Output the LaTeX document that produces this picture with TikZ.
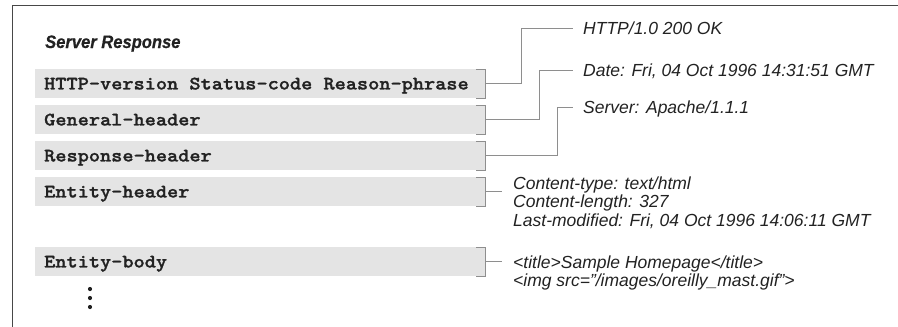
\documentclass[tikz,border=0pt]{standalone}
\usepackage{fontspec}
\setmainfont{Liberation Sans}
\newfontfamily\codefont{lmmonolt10-bold}[Extension=.otf, FakeStretch=1.12, FakeBold=1.3]
\newfontfamily\titlefont{Liberation Sans}[FakeStretch=0.92, FakeBold=0.6]
% one full character cell of the code font
\newcommand\cellgap{\hphantom{H}}

\definecolor{framegray}{HTML}{474747}
\definecolor{barfill}{HTML}{E4E4E4}
\definecolor{linegray}{HTML}{8E8E8E}
\definecolor{inkcolor}{HTML}{222222}

\begin{document}
\begin{tikzpicture}[x=1pt, y=-1pt,
  frame/.style={draw=framegray, line width=1.6pt},
  field/.style={fill=barfill, anchor=north west, minimum height=29pt,
    text width=432pt, inner xsep=9pt, inner ysep=0pt, align=left,
    text height=11.5pt, text depth=0pt, text=inkcolor,
    font=\codefont\fontsize{19}{19}\selectfont},
  tick/.style={draw=linegray, line width=0.9pt},
  wire/.style={draw=linegray, line width=0.9pt},
  label/.style={anchor=west, inner sep=0pt, text height=12.5pt, text depth=0pt,
    text=inkcolor, font=\itshape\fontsize{17.5}{18.5}\selectfont},
  heading/.style={anchor=base west, inner sep=0pt, text=inkcolor,
    font=\titlefont\bfseries\itshape\fontsize{18}{20}\selectfont}
]
\useasboundingbox (0,0) rectangle (898,327);

% outer frame (top and left edges)
\draw[frame] (898,5.5) -- (12.5,5.5) -- (12.5,327);

\node[heading] (title) at (45,48) {Server Response};

% message fields
\node[field] (b1) at (35,69)  {HTTP-version\cellgap Status-code\cellgap Reason-phrase};
\node[field] (b2) at (35,105) {General-header};
\node[field] (b3) at (35,141) {Response-header};
\node[field] (b4) at (35,177) {Entity-header};
\node[field] (b5) at (35,247) {Entity-body};

% brackets at the right end of each field
\foreach \b in {b1,b2,b3,b4,b5}
  \draw[tick] ([xshift=-9pt]\b.north east) -- (\b.north east)
              -- (\b.south east) -- ([xshift=-9pt]\b.south east);

% sample values
\node[label] (t1) at (583,28)  {HTTP/1.0 200 OK};
\node[label] (t2) at (583,70)  {Date: Fri, 04 Oct 1996 14:31:51 GMT};
\node[label] (t3) at (583,107) {Server: Apache/1.1.1};

\node[label] (e1) at (513,183)   {Content-type: text/html};
\node[label] (e2) at (513,201.5) {Content-length: 327};
\node[label] (e3) at (513,220)   {Last-modified: Fri, 04 Oct 1996 14:06:11 GMT};

\node[label] (d1) at (513,262)   {<title>Sample Homepage</title>};
\node[label] (d2) at (513,280.5) {<img src="/images/oreilly\_mast.gif">};

% connectors
\draw[wire] (b1.east) -- ++(36,0) |- ([xshift=-10pt]t1.west);
\draw[wire] (b2.east) -- ++(54,0) |- ([xshift=-10pt]t2.west);
\draw[wire] (b3.east) -- ++(72,0) |- ([xshift=-10pt]t3.west);
\draw[wire] (b4.east) -- ++(17,0);
\draw[wire] (b5.east) -- ++(17,0);

% continuation dots
\foreach \y in {289,298,307}
  \fill[inkcolor] (90,\y) circle (2.1pt);
\end{tikzpicture}
\end{document}
